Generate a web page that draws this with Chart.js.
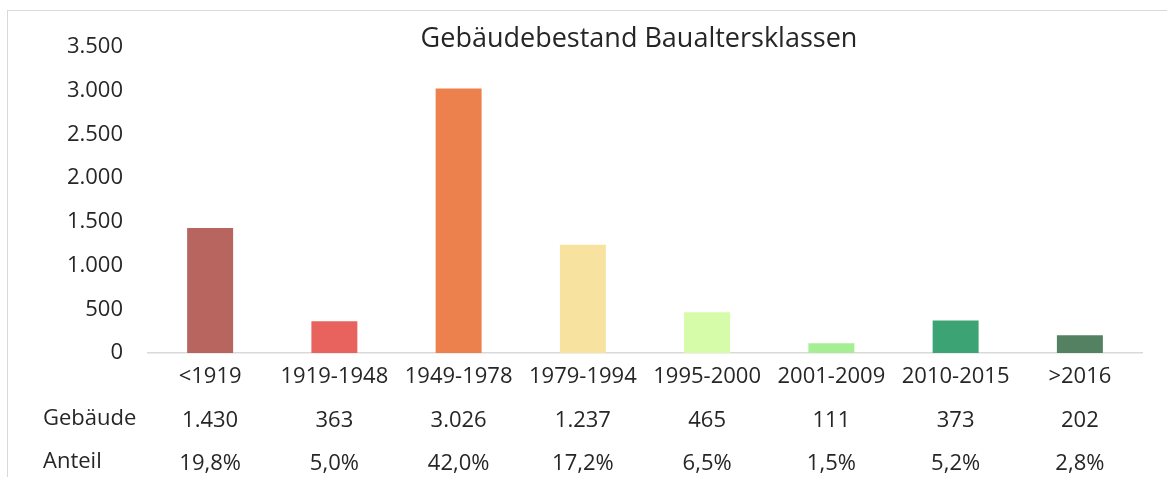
<!DOCTYPE html>
<html lang="de">
<head>
    <meta charset="UTF-8">
    <title>Gebäudebestand Baualtersklassen</title>
    <script src="https://cdn.jsdelivr.net/npm/chart.js"></script>
    <style>
        html, body {
            margin: 0;
            padding: 0;
            overflow: hidden;
            background: #fff;
        }
        .frame {
            position: absolute;
            left: 7px;
            top: 10px;
            width: 1200px;
            height: 520px;
            border-top: 1.5px solid #d9d9d9;
            border-left: 1.5px solid #d9d9d9;
        }
        .chart-box {
            position: absolute;
            left: 0;
            top: 0;
            width: 1167px;
            height: 500px;
        }
    </style>
</head>
<body>
    <div class="frame"></div>
    <div class="chart-box">
        <canvas id="chart" width="1167" height="500"></canvas>
    </div>

    <script>
        // Daten
        const categories = ['<1919', '1919-1948', '1949-1978', '1979-1994', '1995-2000', '2001-2009', '2010-2015', '>2016'];
        const gebaeude = [1430, 363, 3026, 1237, 465, 111, 373, 202];
        const anteil = [19.8, 5.0, 42.0, 17.2, 6.5, 1.5, 5.2, 2.8];
        const rowLabels = ['Gebäude', 'Anteil'];
        const barColors = ['#b8645f', '#e8625e', '#ec814e', '#f7e2a0', '#d6fba9', '#a6ee93', '#3ca474', '#538161'];
        const chartTitle = 'Gebäudebestand Baualtersklassen';

        const textColor = '#262626';
        const fontFamily = "'Open Sans', 'Noto Sans', sans-serif";
        const fontSize = 22;
        const rowHeight = 43.5;

        // Tausenderpunkt und Dezimalkomma
        function fmtInt(v) {
            return String(Math.round(v)).replace(/\B(?=(\d{3})+(?!\d))/g, '.');
        }
        function fmtPct(v) {
            return v.toFixed(1).replace('.', ',') + '%';
        }

        const labels = categories.map((c, i) => [c, fmtInt(gebaeude[i]), fmtPct(anteil[i])]);

        // Titel und Zeilenbeschriftungen
        const extraText = {
            id: 'extraText',
            afterDraw(chart) {
                const ctx = chart.ctx;
                const area = chart.chartArea;
                const x = chart.scales.x;
                ctx.save();
                ctx.fillStyle = textColor;
                ctx.textBaseline = 'middle';

                ctx.font = `27px ${fontFamily}`;
                ctx.textAlign = 'center';
                ctx.fillText(chartTitle, (area.left + area.right) / 2 - 6, 39);

                ctx.font = `${fontSize}px ${fontFamily}`;
                ctx.textAlign = 'left';
                rowLabels.forEach((t, i) => {
                    const y = x.top + rowHeight * (i + 1.5);
                    ctx.fillText(t, 43, y);
                });
                ctx.restore();
            }
        };

        const ctx = document.getElementById('chart').getContext('2d');
        new Chart(ctx, {
            type: 'bar',
            data: {
                labels: labels,
                datasets: [{
                    label: 'Gebäude',
                    data: gebaeude,
                    backgroundColor: barColors,
                    borderWidth: 0,
                    barPercentage: 0.37,
                    categoryPercentage: 1
                }]
            },
            options: {
                responsive: false,
                animation: false,
                layout: {
                    padding: { left: 0, right: 25, top: 47, bottom: 0 }
                },
                plugins: {
                    legend: { display: false },
                    title: { display: false },
                    tooltip: { enabled: false }
                },
                scales: {
                    x: {
                        grid: { display: false },
                        border: { display: true, color: '#d9d9d9', width: 1.5 },
                        ticks: {
                            color: textColor,
                            padding: -6,
                            maxRotation: 0,
                            autoSkip: false,
                            font: { family: fontFamily, size: fontSize, lineHeight: rowHeight / fontSize }
                        },
                        afterFit(scale) {
                            scale.height = 147;
                        }
                    },
                    y: {
                        min: 0,
                        max: 3500,
                        grid: { display: false },
                        border: { display: false },
                        ticks: {
                            stepSize: 500,
                            color: textColor,
                            padding: 17,
                            font: { family: fontFamily, size: fontSize },
                            callback: (v) => fmtInt(v)
                        },
                        afterFit(scale) {
                            scale.width = 148;
                        }
                    }
                }
            },
            plugins: [extraText]
        });
    </script>
</body>
</html>
